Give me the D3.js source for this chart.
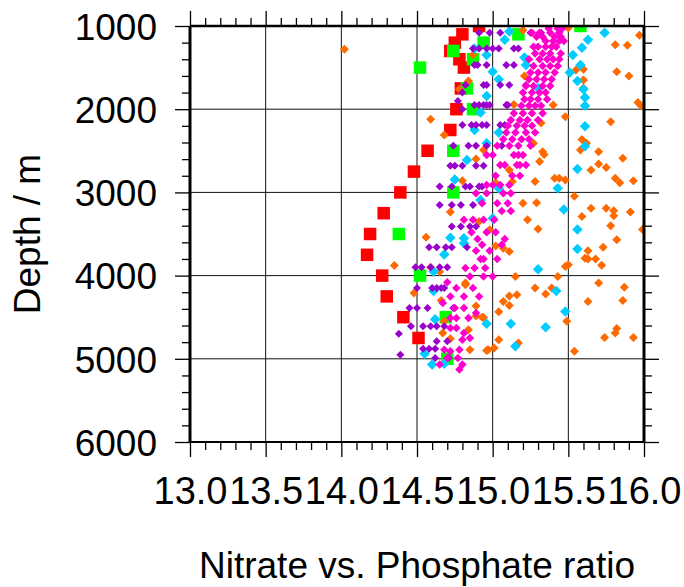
<!DOCTYPE html>
<html>
<head>
<meta charset="utf-8">
<script src="https://cdn.jsdelivr.net/npm/d3@7"></script>
<style>
body { margin: 0; background: #fff; }
svg { display: block; }
text { font-family: "Liberation Sans", Arial, sans-serif; fill: #000; }
</style>
</head>
<body>
<script>
// values: [N/P ratio, depth m]
var redSquares = [[14.91,1000],[14.80,1100],[14.75,1200],[14.72,1300],[14.78,1400],[14.81,1500],
  [14.79,1750],[14.76,2000],[14.72,2250],[14.57,2500],[14.48,2750],[14.39,3000],[14.28,3250],
  [14.19,3500],[14.17,3750],[14.27,4000],[14.30,4250],[14.41,4500],[14.51,4750]];

var greenSquares = [[15.58,1000],[15.17,1100],[14.94,1200],[14.74,1300],[14.87,1400],[14.52,1500],
  [14.83,1750],[14.87,2000],[14.74,2500],[14.74,3000],[14.38,3500],[14.52,4000],[14.69,4500],[14.70,5000]];

var orangePts = [[14.02,1280],[14.87,1345],[14.84,1660],[14.78,1760],[14.59,2120],[14.68,2310],[14.94,2490],
  [15.20,1050],[15.50,1020],[15.97,1110],[15.81,1225],[15.89,1230],[15.21,1600],[15.55,1530],[15.60,1520],
  [15.82,1550],[15.90,1600],[15.60,1650],[15.60,1745],[15.96,1920],[15.98,1960],[15.40,1950],[15.14,1945],
  [15.48,2090],[15.78,2150],[15.32,2165],[15.59,2365],[15.62,2410],[15.58,2490],[15.70,2510],[15.27,2410],
  [15.33,2510],[15.34,2545],[15.86,2590],[15.31,2630],[15.70,2660],[15.65,2730],[15.75,2700],[15.81,2830],
  [15.84,2885],[15.93,2860],[15.41,2830],[15.44,2830],[15.48,2850],[15.28,2870],[15.11,2730],[15.13,2870],
  [15.54,3045],[15.20,3130],[15.29,3125],[15.65,3190],[15.75,3190],[15.80,3220],[15.80,3280],[15.91,3235],
  [15.59,3290],[15.23,3330],[15.78,3400],[15.99,3445],[15.30,3440],[15.82,3570],[15.73,3660],[15.63,3700],
  [15.61,3790],[15.63,3800],[15.68,3800],[15.72,3875],[15.48,3890],[15.50,3870],[15.07,3670],[15.11,3710],
  [15.02,3645],[15.15,4010],[15.43,4010],[15.70,4090],[15.87,4140],[15.28,4150],[15.39,4150],[15.02,2885],
  [15.35,4220],[15.16,4230],[15.11,4245],[15.07,4310],[15.11,4360],[15.04,4435],[14.93,4500],[15.86,4300],
  [15.63,4310],[15.49,4550],[15.82,4635],[15.81,4690],[15.74,4745],[15.93,4745],[15.17,4810],[15.04,4770],
  [15.01,4870],[14.97,4890],[15.54,4910],[14.48,4210],[14.82,4110],[14.66,4300],[14.89,4365],[14.68,4550],
  [14.89,4485],[14.94,4505],[14.84,4650],[14.67,4690],[14.72,4760],[14.85,4890],[14.96,4900],[14.89,2600],
  [14.80,2860],[14.72,3235],[14.56,3540],[14.35,3880],[14.59,3900],[14.65,3955],[14.91,3350],[14.82,4090],
  [14.98,3450]];

var cyanPts = [[14.88,1270],[14.96,1350],[14.96,1840],[14.92,2040],[14.88,2250],[14.96,2410],
  [15.11,1065],[15.08,1165],[15.00,1550],[15.04,1640],[15.21,1380],[15.22,1470],[15.30,1745],
  [15.74,1080],[15.63,1165],[15.59,1260],[15.53,1350],[15.58,1470],[15.51,1560],[15.56,1660],[15.60,1760],
  [15.61,1860],[15.61,1960],[15.61,2205],[15.61,2445],[15.04,2280],[15.56,2720],[15.43,2950],[15.47,3205],
  [15.56,3445],[15.56,3680],[15.30,3925],[15.04,2950],[15.00,3310],[15.42,4185],[15.48,4430],[15.12,4580],
  [15.35,4620],[14.96,4580],[15.15,4850],[14.61,4185],[14.62,4525],[14.55,4940],[14.60,5070],[14.68,5060],
  [14.75,2845],[14.72,3545],[14.81,3550],[14.81,3610],[14.68,3745],[14.92,3090],[14.83,2610],[14.61,3950]];

// purple rows: depth, ratios
var purpleRows = [
  [1080,[14.91,14.98,15.05,15.25,15.32]],
  [1270,[14.87,14.91,14.96,15.00,15.04,15.14,15.17]],
  [1470,[14.88,14.90,14.96,15.09,15.14]],
  [1710,[14.82,14.94,14.96,15.05,15.11,15.22]],
  [1800,[14.80]],
  [1900,[14.77]],
  [1950,[14.88,14.91,14.94,14.96,14.98,15.09,15.10]],
  [2000,[14.80]],
  [2190,[14.80,14.86,14.89,14.93,14.96,15.05,15.08]],
  [2440,[14.74,14.84,14.89,14.96,15.06]],
  [2680,[14.72,14.75,14.80,14.89,14.94]],
  [2930,[14.65,14.73,14.82,14.85,14.91,14.93]],
  [3150,[14.65,14.73,14.79,14.87]],
  [3410,[14.73,14.79,14.85,14.89]],
  [3660,[14.58,14.63,14.69,14.73,14.83]],
  [3900,[14.49,14.53,14.59,14.65,14.70]],
  [4150,[14.50,14.60,14.63,14.66,14.68]],
  [4390,[14.45,14.50,14.57,14.74]],
  [4610,[14.46,14.54,14.59,14.63,14.68]],
  [4700,[14.38]],
  [4790,[14.63,14.70]],
  [4880,[14.54,14.58,14.62]],
  [4950,[14.39]],
  [4990,[14.62,14.71]]
];

var magentaRows = [
  [1030,[15.37,15.43,15.46]],
  [1080,[15.26,15.31,15.38,15.44]],
  [1130,[15.29,15.33,15.41,15.45]],
  [1180,[15.35,15.40,15.44,15.47]],
  [1250,[15.27,15.30,15.35,15.39,15.42]],
  [1330,[15.28,15.33,15.38,15.45]],
  [1400,[15.24,15.31,15.36,15.40,15.44]],
  [1480,[15.27,15.33,15.38,15.43]],
  [1560,[15.25,15.30,15.35,15.41]],
  [1640,[15.24,15.29,15.34,15.39]],
  [1720,[15.22,15.27,15.33,15.38]],
  [1800,[15.20,15.26,15.31,15.35]],
  [1880,[15.21,15.25,15.30,15.36]],
  [1960,[15.19,15.24,15.28,15.32]],
  [2050,[15.14,15.20,15.26,15.33]],
  [2130,[15.12,15.18,15.23,15.30]],
  [2200,[15.10,15.16,15.21,15.26]],
  [2280,[15.09,15.15,15.22,15.28]],
  [2360,[15.07,15.13,15.19,15.24]],
  [2440,[15.03,15.11,15.17,15.25]],
  [2550,[14.96,15.00,15.14,15.17,15.20]],
  [2670,[15.05,15.08,15.16,15.18,15.22]],
  [2800,[15.02,15.13,15.18]],
  [2910,[14.96,15.00,15.05,15.11]],
  [3010,[14.89,14.96,15.07,15.12]],
  [3130,[14.93,15.03,15.10]],
  [3225,[15.06,15.12]],
  [3330,[14.81,14.87,14.94,15.01]],
  [3480,[14.86,14.96,15.02]],
  [3560,[14.90,15.08]],
  [3630,[14.93,15.06]],
  [3700,[14.89,14.98]],
  [3800,[14.92,14.94,15.03]],
  [3910,[14.82,14.88,14.95]],
  [4010,[14.85,14.94,15.00]],
  [4080,[14.70]],
  [4150,[14.76,14.87]],
  [4250,[14.72,14.81,14.91]],
  [4330,[14.67]],
  [4390,[14.75,14.81]],
  [4450,[14.89]],
  [4510,[14.72,14.76,14.84]],
  [4630,[14.72,14.76]],
  [4690,[14.81]],
  [4750,[14.85]],
  [4770,[14.80]],
  [4890,[14.68,14.78]],
  [4910,[14.72]],
  [4990,[14.70,14.77]],
  [5070,[14.65,14.80]],
  [5130,[14.78]]
];

var xMajor = [13.0,13.5,14.0,14.5,15.0,15.5,16.0];
var yMajor = [1000,2000,3000,4000,5000,6000];
var xLabel = "Nitrate vs. Phosphate ratio";
var yLabel = "Depth / m";

// flatten the row lists
function unrow(rows) {
  var out = [];
  rows.forEach(function(r) { r[1].forEach(function(v) { out.push([v, r[0]]); }); });
  return out;
}
var purplePts = unrow(purpleRows);
var magentaPts = unrow(magentaRows);

var W = 684, H = 587;
var x = d3.scaleLinear().domain([13, 16]).range([190, 644]);
var y = d3.scaleLinear().domain([1000, 6000]).range([26, 442]);

var xMinor = d3.range(130, 161).map(function(d) { return d / 10; })
  .filter(function(d) { return xMajor.indexOf(d) < 0; });
var yMinor = d3.range(1000, 6001, 200).filter(function(d) { return d % 1000 !== 0; });

var svg = d3.select("body").append("svg")
  .attr("width", W)
  .attr("height", H);

svg.append("defs").append("clipPath").attr("id", "plotclip")
  .append("rect")
  .attr("x", x(13)).attr("y", y(1000))
  .attr("width", x(16) - x(13)).attr("height", y(6000) - y(1000));

// grid
var grid = svg.append("g").attr("stroke", "#111").attr("stroke-width", 1);
xMajor.slice(1, -1).forEach(function(v) {
  grid.append("line").attr("x1", x(v)).attr("x2", x(v)).attr("y1", y(1000)).attr("y2", y(6000));
});
yMajor.slice(1, -1).forEach(function(v) {
  grid.append("line").attr("x1", x(13)).attr("x2", x(16)).attr("y1", y(v)).attr("y2", y(v));
});

// points
var plot = svg.append("g").attr("clip-path", "url(#plotclip)");

function squares(data, color, side) {
  plot.append("g").selectAll("rect").data(data).enter().append("rect")
    .attr("x", function(d) { return x(d[0]) - side / 2; })
    .attr("y", function(d) { return y(d[1]) - side / 2; })
    .attr("width", side).attr("height", side)
    .attr("fill", color);
}
function diamonds(data, color, diag) {
  var sym = d3.symbol().type(d3.symbolSquare).size(diag * diag / 2);
  plot.append("g").selectAll("path").data(data).enter().append("path")
    .attr("d", sym)
    .attr("transform", function(d) { return "translate(" + x(d[0]) + "," + y(d[1]) + ") rotate(45)"; })
    .attr("fill", color);
}

squares(redSquares, "#ff0000", 12.5);
squares(greenSquares, "#00ff00", 12.5);
diamonds(orangePts, "#ff6a00", 9);
diamonds(cyanPts, "#00ccff", 10.5);
diamonds(purplePts, "#9900cc", 8);
diamonds(magentaPts, "#ff00cc", 8.5);

// axes, ticks pointing outward on all four sides
function styleAxis(g) {
  g.select(".domain").remove();
  g.selectAll(".tick line").attr("stroke", "#000").attr("stroke-width", 1.3);
  g.selectAll("text").style("font-size", "38px").attr("fill", "#000");
}

svg.append("g").attr("transform", "translate(0," + y(6000) + ")")
  .call(d3.axisBottom(x).tickValues(xMajor).tickSize(15).tickPadding(20).tickFormat(d3.format(".1f")))
  .call(styleAxis);
svg.append("g").attr("transform", "translate(0," + y(6000) + ")")
  .call(d3.axisBottom(x).tickValues(xMinor).tickSize(8).tickFormat(""))
  .call(styleAxis);
svg.append("g").attr("transform", "translate(0," + y(1000) + ")")
  .call(d3.axisTop(x).tickValues(xMajor).tickSize(15).tickFormat(""))
  .call(styleAxis);
svg.append("g").attr("transform", "translate(0," + y(1000) + ")")
  .call(d3.axisTop(x).tickValues(xMinor).tickSize(8).tickFormat(""))
  .call(styleAxis);

var yAx = svg.append("g").attr("transform", "translate(" + x(13) + ",0)")
  .call(d3.axisLeft(y).tickValues(yMajor).tickSize(15).tickPadding(18).tickFormat(d3.format("d")))
  .call(styleAxis);
yAx.selectAll("text").style("font-size", "37px").attr("dy", "0.36em");
svg.append("g").attr("transform", "translate(" + x(13) + ",0)")
  .call(d3.axisLeft(y).tickValues(yMinor).tickSize(8).tickFormat(""))
  .call(styleAxis);
svg.append("g").attr("transform", "translate(" + x(16) + ",0)")
  .call(d3.axisRight(y).tickValues(yMajor).tickSize(15).tickFormat(""))
  .call(styleAxis);
svg.append("g").attr("transform", "translate(" + x(16) + ",0)")
  .call(d3.axisRight(y).tickValues(yMinor).tickSize(8).tickFormat(""))
  .call(styleAxis);

// frame
var frame = svg.append("g").attr("stroke", "#000");
frame.append("line").attr("x1", x(13)).attr("x2", x(13)).attr("y1", y(1000)).attr("y2", y(6000)).attr("stroke-width", 3);
frame.append("line").attr("x1", x(16)).attr("x2", x(16)).attr("y1", y(1000)).attr("y2", y(6000)).attr("stroke-width", 3);
frame.append("line").attr("x1", x(13)).attr("x2", x(16)).attr("y1", y(1000)).attr("y2", y(1000)).attr("stroke-width", 2.5);
frame.append("line").attr("x1", x(13)).attr("x2", x(16)).attr("y1", y(6000)).attr("y2", y(6000)).attr("stroke-width", 2);

// titles
svg.append("text")
  .attr("x", (x(13) + x(16)) / 2)
  .attr("y", 578)
  .attr("text-anchor", "middle")
  .style("font-size", "37px")
  .text(xLabel);

svg.append("text")
  .attr("transform", "translate(40," + (y(1000) + y(6000)) / 2 + ") rotate(-90)")
  .attr("text-anchor", "middle")
  .style("font-size", "37px")
  .text(yLabel);
</script>
</body>
</html>
